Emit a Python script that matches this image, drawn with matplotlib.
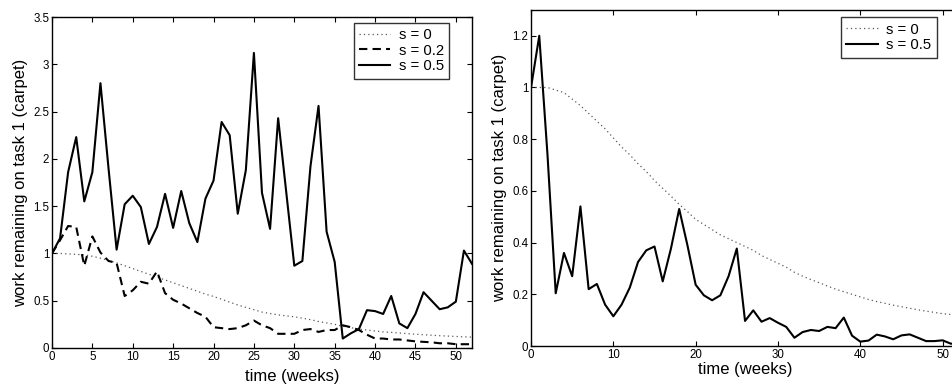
import matplotlib
matplotlib.use("Agg")
import matplotlib.pyplot as plt

plt.rcParams['font.family'] = ['Liberation Sans', 'DejaVu Sans']

weeks = list(range(53))

# left panel
s0_left = [1.00, 1.00, 0.995, 0.99, 0.985, 0.97, 0.95, 0.925, 0.90, 0.87,
           0.84, 0.81, 0.78, 0.75, 0.72, 0.69, 0.66, 0.63, 0.60, 0.57,
           0.545, 0.515, 0.485, 0.455, 0.43, 0.405, 0.38, 0.365, 0.35, 0.34,
           0.33, 0.315, 0.30, 0.28, 0.265, 0.25, 0.23, 0.215, 0.20, 0.19,
           0.18, 0.17, 0.165, 0.158, 0.152, 0.146, 0.14, 0.135, 0.13, 0.126,
           0.122, 0.118, 0.115]
s02_left = [1.00, 1.14, 1.29, 1.28, 0.87, 1.18, 1.01, 0.92, 0.90, 0.55,
            0.61, 0.70, 0.68, 0.81, 0.58, 0.51, 0.47, 0.42, 0.37, 0.33,
            0.22, 0.21, 0.20, 0.21, 0.24, 0.29, 0.24, 0.21, 0.15, 0.15,
            0.15, 0.19, 0.20, 0.17, 0.19, 0.19, 0.24, 0.22, 0.19, 0.14,
            0.10, 0.10, 0.09, 0.09, 0.08, 0.07, 0.065, 0.06, 0.05, 0.05,
            0.04, 0.04, 0.04]
s05_left = [1.00, 1.16, 1.86, 2.23, 1.55, 1.86, 2.80, 1.90, 1.04, 1.52,
            1.61, 1.49, 1.10, 1.28, 1.63, 1.27, 1.66, 1.32, 1.12, 1.58,
            1.77, 2.39, 2.25, 1.42, 1.88, 3.12, 1.64, 1.26, 2.43, 1.65,
            0.87, 0.92, 1.92, 2.56, 1.23, 0.91, 0.10, 0.155, 0.20, 0.40,
            0.39, 0.36, 0.55, 0.26, 0.21, 0.36, 0.59, 0.50, 0.41, 0.43,
            0.49, 1.03, 0.89]

# right panel
s0_right = [1.00, 1.00, 1.00, 0.99, 0.98, 0.955, 0.93, 0.90, 0.87, 0.84,
            0.805, 0.77, 0.74, 0.705, 0.675, 0.64, 0.61, 0.58, 0.548, 0.52,
            0.49, 0.47, 0.45, 0.43, 0.415, 0.40, 0.385, 0.37, 0.35, 0.335,
            0.32, 0.305, 0.285, 0.27, 0.257, 0.245, 0.232, 0.22, 0.21, 0.20,
            0.19, 0.18, 0.172, 0.165, 0.158, 0.152, 0.146, 0.14, 0.135, 0.13,
            0.125, 0.122, 0.118]
s05_right = [1.00, 1.20, 0.74, 0.204, 0.36, 0.27, 0.54, 0.22, 0.24, 0.16,
             0.115, 0.16, 0.226, 0.325, 0.37, 0.385, 0.25, 0.377, 0.53, 0.39,
             0.237, 0.196, 0.177, 0.196, 0.27, 0.377, 0.097, 0.138, 0.094, 0.108,
             0.09, 0.074, 0.032, 0.054, 0.062, 0.058, 0.074, 0.069, 0.11, 0.04,
             0.017, 0.021, 0.044, 0.037, 0.026, 0.041, 0.045, 0.032, 0.019, 0.019,
             0.022, 0.009, 0.01]

fig = plt.figure(figsize=(9.52, 3.9), dpi=100)
ax1 = fig.add_axes([0.0546, 0.1077, 0.4412, 0.8487])
ax2 = fig.add_axes([0.5578, 0.1128, 0.4496, 0.8617])

dot = dict(color='0.35', lw=0.9, linestyle=(0, (1, 2.5)))
sol = dict(color='black', lw=1.5)

ax1.plot(weeks, s0_left, label='s = 0', **dot)
ax1.plot(weeks, s02_left, color='black', lw=1.5, linestyle=(0, (4, 2.5)), label='s = 0.2')
ax1.plot(weeks, s05_left, label='s = 0.5', **sol)
ax1.set_xlim(0, 52)
ax1.set_ylim(0, 3.5)
ax1.set_xticks(range(0, 51, 5))
ax1.set_yticks([0, 0.5, 1, 1.5, 2, 2.5, 3, 3.5])
ax1.set_yticklabels(['0', '0.5', '1', '1.5', '2', '2.5', '3', '3.5'])

ax2.plot(weeks, s0_right, label='s = 0', **dot)
ax2.plot(weeks, s05_right, label='s = 0.5', **sol)
ax2.set_xlim(0, 52)
ax2.set_ylim(0, 1.3)
ax2.set_xticks(range(0, 51, 10))
ax2.set_yticks([0, 0.2, 0.4, 0.6, 0.8, 1.0, 1.2])
ax2.set_yticklabels(['0', '0.2', '0.4', '0.6', '0.8', '1', '1.2'])

for ax in (ax1, ax2):
    ax.tick_params(direction='in', top=True, right=True, length=3.5, width=0.8,
                   labelsize=8.3, pad=2)
    for sp in ax.spines.values():
        sp.set_linewidth(1.0)
    ax.set_xlabel('time (weeks)', fontsize=12)
    ax.set_ylabel('work remaining on task 1 (carpet)', fontsize=12, labelpad=3.5)

ax1.xaxis.set_label_coords(0.571, -0.064)
ax2.xaxis.set_label_coords(0.5, -0.047)

legend_anchor = {ax1: (0.946, 0.983), ax2: (0.948, 0.978)}
for ax in (ax1, ax2):
    leg = ax.legend(loc='upper right', bbox_to_anchor=legend_anchor[ax],
                    fontsize=10.7, frameon=True, fancybox=False,
                    handlelength=2.1, borderpad=0.35, labelspacing=0.12,
                    handletextpad=0.6, borderaxespad=0)
    leg.get_frame().set_edgecolor('black')
    leg.get_frame().set_linewidth(1.0)

fig.savefig('out.png', dpi=100)
